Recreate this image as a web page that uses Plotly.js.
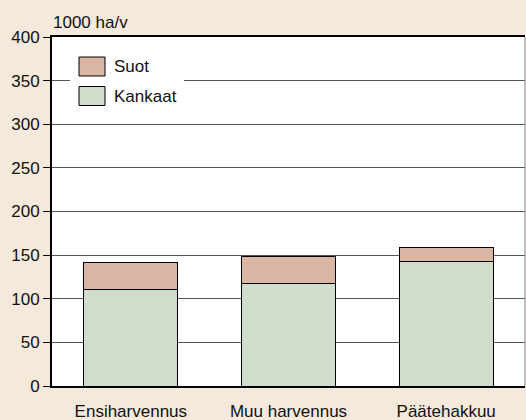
<!DOCTYPE html>
<html><head><meta charset="utf-8">
<script src="https://cdn.plot.ly/plotly-3.0.1.min.js"></script>
<style>html,body{margin:0;padding:0;background:#f5e9dc;}#chart{width:526px;height:420px;}</style>
</head><body><div id="chart"></div>
<script>
var categories = ['Ensiharvennus', 'Muu harvennus', 'Päätehakkuu'];
var kankaat = [111, 117, 143];
var suot = [31, 31, 16];
var seriesNames = ['Suot', 'Kankaat'];
var seriesColors = ['#dbb5a3', '#d0dccc'];
var yTicks = [0, 50, 100, 150, 200, 250, 300, 350, 400];
var unitLabel = '1000 ha/v';

var FONT = '"Liberation Sans", Arial, sans-serif';

var traces = [
  {type:'bar', name:seriesNames[1], x:categories, y:kankaat,
   marker:{color:seriesColors[1], line:{color:'#000', width:1}}, showlegend:false, hoverinfo:'y'},
  {type:'bar', name:seriesNames[0], x:categories, y:suot,
   marker:{color:seriesColors[0], line:{color:'#000', width:1}}, showlegend:false, hoverinfo:'y'}
];

// custom legend (pixel layout converted to paper coords)
var L = 52, R = 525, T = 37, B = 386;
function px(x){ return (x - L) / (R - L); }
function py(y){ return (B - y) / (B - T); }
var shapes = [
  {type:'rect', xref:'paper', yref:'paper', x0:px(70), x1:px(184), y0:py(112), y1:py(50), fillcolor:'#fff', line:{width:0}, layer:'above'},
  {type:'line', xref:'paper', yref:'paper', x0:1, x1:1, y0:0, y1:1, line:{color:'#888', width:1}}
];
var annotations = [];
var rows = [66.5, 96];
for (var i = 0; i < seriesNames.length; i++) {
  shapes.push({type:'rect', xref:'paper', yref:'paper', x0:px(79), x1:px(105), y0:py(rows[i]+9.5), y1:py(rows[i]-9.5),
    fillcolor:seriesColors[i], line:{color:'#000', width:1}, layer:'above'});
  annotations.push({xref:'paper', yref:'paper', x:px(112), y:py(rows[i]), xanchor:'left', yanchor:'middle',
    text:seriesNames[i], showarrow:false, font:{family:FONT, size:17, color:'#111'}});
}

var layout = {
  width:526, height:420,
  margin:{l:52, r:1, t:37, b:34},
  paper_bgcolor:'#f5e9dc', plot_bgcolor:'#fff',
  font:{family:FONT, size:17, color:'#111'},
  barmode:'stack', bargap:0.405,
  title:{text:unitLabel, x:53/526, xanchor:'left', xref:'container', y:1-22/420, yanchor:'middle', yref:'container',
    font:{family:FONT, size:17, color:'#111'}},
  xaxis:{type:'category', showline:true, linecolor:'#000', linewidth:2, mirror:true, showgrid:false,
    ticks:'outside', ticklen:9, tickcolor:'rgba(0,0,0,0)', tickfont:{family:FONT, size:17, color:'#111'},
    range:[-0.5, 2.5], fixedrange:true},
  yaxis:{range:[0, 400], tickvals:yTicks, showline:true, linecolor:'#000', linewidth:2,
    showgrid:true, gridcolor:'#555', gridwidth:1, zeroline:false,
    ticks:'outside', ticklen:7, tickcolor:'#000', tickwidth:1, tickfont:{family:FONT, size:17, color:'#111'}, fixedrange:true},
  shapes:shapes, annotations:annotations, showlegend:false
};
Plotly.newPlot('chart', traces, layout, {displayModeBar:false, staticPlot:true});
</script></body></html>
